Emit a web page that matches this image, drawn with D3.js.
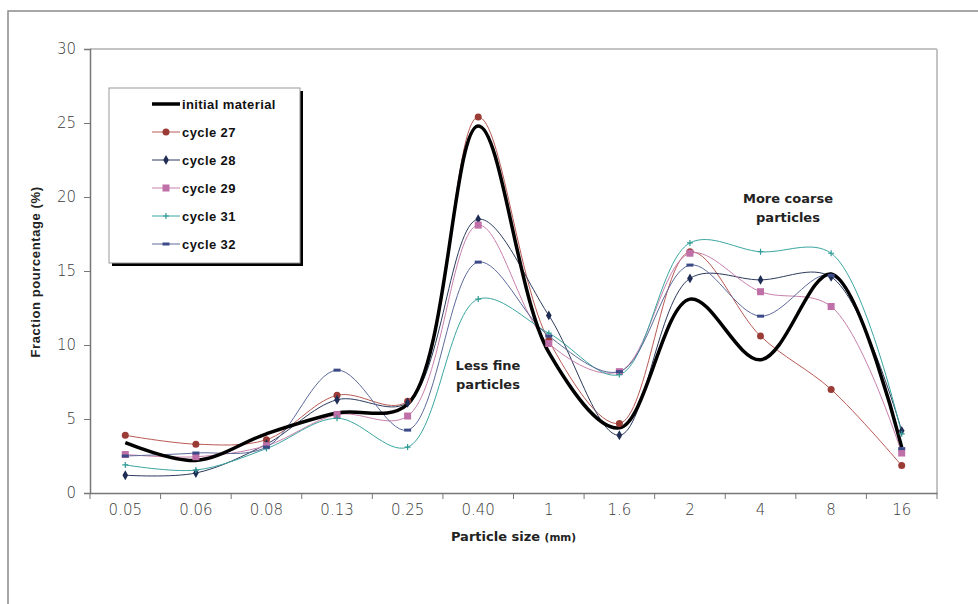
<!DOCTYPE html>
<html>
<head>
<meta charset="utf-8">
<script src="https://d3js.org/d3.v7.min.js"></script>
<style>
  body { margin: 0; background: #fff; }
  svg { display: block; }
</style>
</head>
<body>
<svg id="chart" width="978" height="604"></svg>
<script>
// particle size classes (mm)
const categories = ["0.05", "0.06", "0.08", "0.13", "0.25", "0.40", "1", "1.6", "2", "4", "8", "16"];
const yTicks = [0, 5, 10, 15, 20, 25, 30];

// fraction percentage (%) per class
const initialMaterial = [3.4, 2.2, 4.0, 5.4, 6.0, 24.8, 9.5, 4.4, 13.1, 9.0, 14.8, 3.1];
const cycle27 = [3.9, 3.3, 3.6, 6.6, 6.2, 25.4, 10.3, 4.7, 16.3, 10.6, 7.0, 1.85];
const cycle28 = [1.2, 1.35, 3.3, 6.3, 6.1, 18.5, 12.0, 3.9, 14.5, 14.4, 14.6, 4.2];
const cycle29 = [2.6, 2.45, 3.2, 5.3, 5.2, 18.1, 10.1, 8.2, 16.2, 13.6, 12.6, 2.7];
const cycle31 = [1.9, 1.55, 3.0, 5.05, 3.1, 13.1, 10.8, 8.0, 16.9, 16.3, 16.2, 4.0];
const cycle32 = [2.5, 2.7, 3.1, 8.3, 4.25, 15.6, 10.6, 8.2, 15.4, 11.95, 14.7, 3.0];

const seriesNames = ["initial material", "cycle 27", "cycle 28", "cycle 29", "cycle 31", "cycle 32"];

// drawing options built from the arrays above
const series = [
  { name: seriesNames[1], values: cycle27, color: "#b85a55", mcolor: "#9a3b36", marker: "circle" },
  { name: seriesNames[2], values: cycle28, color: "#2c3a5c", mcolor: "#1f2d55", marker: "diamond" },
  { name: seriesNames[3], values: cycle29, color: "#c880ac", mcolor: "#c070a8", marker: "square" },
  { name: seriesNames[4], values: cycle31, color: "#3aa6a0", mcolor: "#2f9a94", marker: "plus" },
  { name: seriesNames[5], values: cycle32, color: "#5d6a9a", mcolor: "#3c4a88", marker: "dash" },
  { name: seriesNames[0], values: initialMaterial, color: "#000", mcolor: "#000", marker: "none", thick: true }
];

const svg = d3.select("#chart");
const plotL = 90, plotR = 937, plotT = 49, plotB = 493;

const x = d3.scaleBand().domain(categories).range([plotL, plotR]);
const y = d3.scaleLinear().domain([0, 30]).range([plotB, plotT]);

// outer frame
svg.append("rect").attr("x", 8).attr("y", 11).attr("width", 1000).attr("height", 700)
  .attr("fill", "none").attr("stroke", "#8a8a8a").attr("stroke-width", 1.5);

// plot box: light top and right edges
svg.append("line").attr("x1", plotL).attr("x2", plotR).attr("y1", plotT).attr("y2", plotT)
  .attr("stroke", "#c4c4c4").attr("stroke-width", 2);
svg.append("line").attr("x1", plotR).attr("x2", plotR).attr("y1", plotT).attr("y2", plotB)
  .attr("stroke", "#c4c4c4").attr("stroke-width", 2);

// y axis
const yAxis = svg.append("g").attr("transform", `translate(${plotL},0)`)
  .call(d3.axisLeft(y).tickValues(yTicks).tickSize(6).tickPadding(8));
yAxis.select(".domain").attr("stroke", "#777").attr("stroke-width", 1.5);
yAxis.selectAll(".tick line").attr("stroke", "#777");
yAxis.selectAll("text").attr("font-family", "DejaVu Sans").attr("font-size", 15)
  .attr("fill", "#3a3a3a").attr("font-weight", 300);

// x axis, ticks between categories
const xAxis = svg.append("g").attr("transform", `translate(0,${plotB})`)
  .call(d3.axisBottom(x).tickSize(0).tickPadding(11));
xAxis.select(".domain").attr("stroke", "#777").attr("stroke-width", 1.5);
xAxis.selectAll("text").attr("font-family", "DejaVu Sans").attr("font-size", 15)
  .attr("fill", "#3a3a3a").attr("font-weight", 300);
const bounds = categories.map(c => x(c)).concat([x(categories[categories.length - 1]) + x.bandwidth()]);
svg.append("g").selectAll("line").data(bounds).join("line")
  .attr("x1", d => d).attr("x2", d => d).attr("y1", plotB).attr("y2", plotB + 6)
  .attr("stroke", "#777");

// axis titles
svg.append("text").attr("transform", "translate(40,272) rotate(-90)")
  .attr("text-anchor", "middle").attr("font-family", "Liberation Sans").attr("font-weight", "bold")
  .attr("font-size", 13).attr("letter-spacing", 0.6).attr("fill", "#222").text("Fraction pourcentage  (%)");
const xt = svg.append("text").attr("x", (plotL + plotR) / 2).attr("y", 541)
  .attr("text-anchor", "middle").attr("font-family", "DejaVu Sans").attr("font-weight", "bold")
  .attr("fill", "#222");
xt.append("tspan").attr("font-size", 13).text("Particle size ");
xt.append("tspan").attr("font-size", 10.5).text("(mm)");

// lines
const cx = i => x(categories[i]) + x.bandwidth() / 2;
const line = d3.line().x((d, i) => cx(i)).y(d => y(d)).curve(d3.curveCatmullRom.alpha(0.5));

series.forEach(s => {
  svg.append("path").datum(s.values).attr("d", line).attr("fill", "none")
    .attr("stroke", s.color).attr("stroke-width", s.thick ? 3.5 : 1);
});

function drawMarker(g, type, px, py, color) {
  if (type === "circle") {
    g.append("circle").attr("cx", px).attr("cy", py).attr("r", 3.5).attr("fill", color);
  } else if (type === "diamond") {
    g.append("path").attr("d", d3.symbol(d3.symbolDiamond, 28)()).attr("transform", `translate(${px},${py})`)
      .attr("fill", color);
  } else if (type === "square") {
    g.append("rect").attr("x", px - 3.5).attr("y", py - 3.5).attr("width", 7).attr("height", 7).attr("fill", color);
  } else if (type === "plus") {
    g.append("path").attr("d", `M${px - 3},${py}H${px + 3}M${px},${py - 3}V${py + 3}`)
      .attr("stroke", color).attr("stroke-width", 1.2);
  } else if (type === "dash") {
    g.append("rect").attr("x", px - 3.5).attr("y", py - 1.5).attr("width", 7).attr("height", 3).attr("fill", color);
  }
}

const markers = svg.append("g");
series.forEach(s => {
  s.values.forEach((v, i) => drawMarker(markers, s.marker, cx(i), y(v), s.mcolor));
});

// annotations
function note(lines, px, py) {
  const t = svg.append("text").attr("text-anchor", "middle").attr("font-family", "DejaVu Sans")
    .attr("font-weight", "bold").attr("font-size", 13).attr("fill", "#222");
  lines.forEach((l, i) => t.append("tspan").attr("x", px).attr("y", py + i * 19).text(l));
}
note(["Less fine", "particles"], 488, 370);
note(["More coarse", "particles"], 788, 203);

// legend with shadow
const lg = svg.append("g");
lg.append("rect").attr("x", 112).attr("y", 91).attr("width", 191).attr("height", 175).attr("fill", "#000");
lg.append("rect").attr("x", 109).attr("y", 88).attr("width", 191).attr("height", 175)
  .attr("fill", "#fff").attr("stroke", "#999").attr("stroke-width", 1);
seriesNames.forEach((name, i) => {
  const s = series.find(d => d.name === name);
  const ly = 104 + i * 28;
  lg.append("line").attr("x1", 152).attr("x2", 180).attr("y1", ly).attr("y2", ly)
    .attr("stroke", s.color).attr("stroke-width", s.thick ? 3.5 : 1);
  drawMarker(lg, s.marker, 166, ly, s.mcolor);
  lg.append("text").attr("x", 182).attr("y", ly + 4.5).attr("font-family", "Liberation Sans")
    .attr("font-weight", "bold").attr("font-size", 13).attr("letter-spacing", 0.4)
    .attr("fill", "#111").text(name);
});
</script>
</body>
</html>
